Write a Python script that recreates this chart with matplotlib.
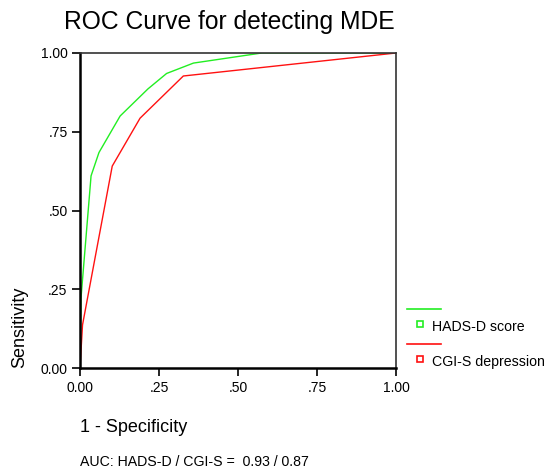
import matplotlib
matplotlib.use('Agg')
import matplotlib.pyplot as plt
from matplotlib.lines import Line2D

plt.rcParams['font.family'] = ['Liberation Sans', 'DejaVu Sans']

# ROC points (1 - specificity, sensitivity)
hads_fpr = [0.0, 0.003, 0.035, 0.06, 0.127, 0.215, 0.274, 0.359, 0.575, 1.0]
hads_tpr = [0.0, 0.22, 0.61, 0.684, 0.80, 0.886, 0.935, 0.968, 1.0, 1.0]
cgi_fpr = [0.0, 0.008, 0.102, 0.19, 0.327, 1.0]
cgi_tpr = [0.0, 0.137, 0.641, 0.793, 0.927, 1.0]

series_names = ['HADS-D score', 'CGI-S depression']
series_colors = ['#22ee22', '#ff1111']
ticks = [0.0, 0.25, 0.5, 0.75, 1.0]
tick_labels = ['0.00', '.25', '.50', '.75', '1.00']

W, H = 546, 470
fig = plt.figure(figsize=(W / 100, H / 100), dpi=100)
ax = fig.add_axes([80 / W, 1 - 368 / H, 316 / W, 315 / H])

ax.plot(hads_fpr, hads_tpr, color=series_colors[0], lw=1.0)
ax.plot(cgi_fpr, cgi_tpr, color=series_colors[1], lw=1.0)

ax.set_xlim(0, 1)
ax.set_ylim(0, 1)
ax.set_xticks(ticks)
ax.set_xticklabels(tick_labels)
ax.set_yticks(ticks)
ax.set_yticklabels(tick_labels)
ax.tick_params(direction='out', length=6, width=1.2, labelsize=10, pad=3)

for side in ['left', 'bottom']:
    ax.spines[side].set_linewidth(1.8)
    ax.spines[side].set_color('black')
for side in ['top', 'right']:
    ax.spines[side].set_linewidth(1.2)
    ax.spines[side].set_color('#333333')

fig.text(229 / W, 1 - 22 / H, 'ROC Curve for detecting MDE', ha='center', va='center', fontsize=17.7)
fig.text(20 / W, 1 - 368 / H, 'Sensitivity', rotation=90, ha='center', va='bottom', fontsize=13)
fig.text(80 / W, 1 - 428 / H, '1 - Specificity', ha='left', va='center', fontsize=13)
fig.text(80 / W, 1 - 462 / H, 'AUC: HADS-D / CGI-S =  0.93 / 0.87', ha='left', va='center', fontsize=10.2)

# SPSS-style legend: line on top, small square with label below
for i, (name, col) in enumerate(zip(series_names, series_colors)):
    y0 = 309 + 35 * i
    fig.add_artist(Line2D([407 / W, 441 / W], [1 - y0 / H, 1 - y0 / H], color=col, lw=1.2))
    fig.add_artist(Line2D([420 / W], [1 - (y0 + 15) / H], marker='s', markersize=5,
                          markerfacecolor='white', markeredgecolor=col, markeredgewidth=1.2, ls=''))
    fig.text(432 / W, 1 - (y0 + 18) / H, name, ha='left', va='center', fontsize=10.2)

fig.savefig('out.png', dpi=100)
